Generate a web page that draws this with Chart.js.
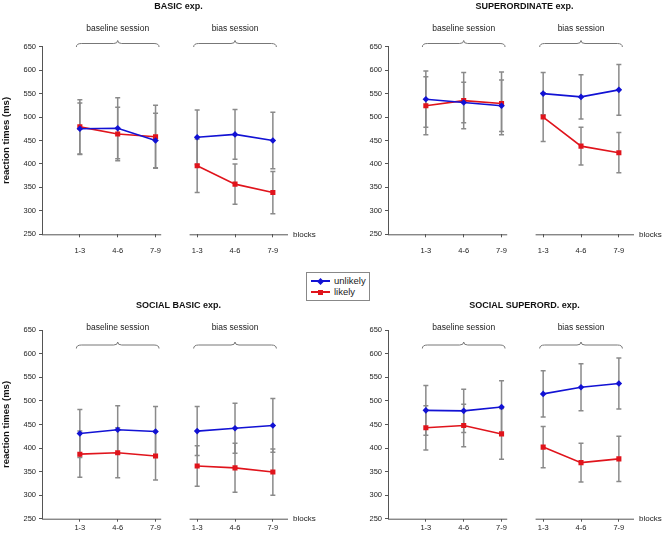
<!DOCTYPE html>
<html>
<head>
<meta charset="utf-8">
<script src="https://cdn.jsdelivr.net/npm/chart.js@4.4.1/dist/chart.umd.min.js"></script>
<style>
  html, body { margin: 0; padding: 0; background: #fff; }
  #wrap { position: relative; width: 662px; height: 534px; overflow: hidden; font-family: "Liberation Sans", Arial, sans-serif; }
  #wrap canvas { position: absolute; }
  #legend { position: absolute; left: 306px; top: 272px; width: 62px; height: 27px; border: 1px solid #888; background: #fff; }
  .lg-line { position: absolute; left: 4px; width: 19px; height: 2px; }
  .lg-mark { position: absolute; width: 5px; height: 5px; }
  .lg-text { position: absolute; left: 27px; font-size: 9.5px; color: #222; line-height: 11px; }
</style>
</head>
<body>
<div id="wrap">
  <canvas id="c1" width="331" height="267" style="left:0;top:0"></canvas>
  <canvas id="c2" width="331" height="267" style="left:331px;top:0"></canvas>
  <canvas id="c3" width="331" height="267" style="left:0;top:267px"></canvas>
  <canvas id="c4" width="331" height="267" style="left:331px;top:267px"></canvas>
  <div id="legend">
    <div class="lg-line" style="top:7px;background:#1212d4"></div>
    <div class="lg-mark" style="top:5.5px;left:11px;background:#1212d4;transform:rotate(45deg)"></div>
    <div class="lg-text" style="top:2px">unlikely</div>
    <div class="lg-line" style="top:18px;background:#e0141c"></div>
    <div class="lg-mark" style="top:16.5px;left:11px;background:#e0141c"></div>
    <div class="lg-text" style="top:13px">likely</div>
  </div>
</div>
<script>
// categories
const blockLabels = ['1-3', '4-6', '7-9'];
const sessionNames = ['baseline session', 'bias session'];
const panelTitles = ['BASIC exp.', 'SUPERORDINATE exp.', 'SOCIAL BASIC exp.', 'SOCIAL SUPERORD. exp.'];
// x position of each block (baseline 1..3, bias 4.1..6.1)
const blockPos = [1, 2, 3, 4.1, 5.1, 6.1];

// mean reaction times (baseline 1-3, 4-6, 7-9, bias 1-3, 4-6, 7-9)
const basicUnlikely = [475, 476, 450, 457, 463, 450];
const basicLikely = [479, 464, 458, 396, 357, 339];
const superUnlikely = [538, 531, 524, 550, 543, 558];
const superLikely = [524, 535, 529, 500, 438, 424];
const socBasicUnlikely = [431, 439, 435, 436, 442, 448];
const socBasicLikely = [387, 390, 383, 362, 358, 349];
const socSuperUnlikely = [480, 479, 487, 515, 529, 537];
const socSuperLikely = [443, 448, 430, 402, 369, 377];

// error bar half widths
const basicUnlikelyErr = [55, 65, 58, 58, 53, 60];
const basicLikelyErr = [58, 57, 67, 57, 43, 45];
const superUnlikelyErr = [60, 43, 55, 45, 47, 54];
const superLikelyErr = [62, 60, 67, 52, 40, 43];
const socBasicUnlikelyErr = [51, 51, 53, 52, 53, 57];
const socBasicLikelyErr = [49, 53, 51, 43, 52, 49];
const socSuperUnlikelyErr = [53, 46, 56, 49, 50, 54];
const socSuperLikelyErr = [47, 45, 54, 44, 41, 48];

const BLUE = '#1212d4';
const RED = '#e0141c';
const AXIS = '#555';
const FONT = '"Liberation Sans", Arial, sans-serif';
const W = 331, H = 267;
const X_MAX = 6.5;
const AREA_W = 246;

var panels = [
    { id: 'c1', title: panelTitles[0], u: basicUnlikely, l: basicLikely, uErr: basicUnlikelyErr, lErr: basicLikelyErr,
      yWidth: 42, yTitle: true, areaTop: 46.7, xHeight: 32.7, tickPad: 9, titleY: 7, labelY: 29, braceY: 43.5 },
    { id: 'c2', title: panelTitles[1], u: superUnlikely, l: superLikely, uErr: superUnlikelyErr, lErr: superLikelyErr,
      yWidth: 57, yTitle: false, areaTop: 46.7, xHeight: 32.7, tickPad: 9, titleY: 7, labelY: 29, braceY: 43.5 },
    { id: 'c3', title: panelTitles[2], u: socBasicUnlikely, l: socBasicLikely, uErr: socBasicUnlikelyErr, lErr: socBasicLikelyErr,
      yWidth: 42, yTitle: true, areaTop: 63.3, xHeight: 15.3, tickPad: 2, titleY: 39, labelY: 61, braceY: 78 },
    { id: 'c4', title: panelTitles[3], u: socSuperUnlikely, l: socSuperLikely, uErr: socSuperUnlikelyErr, lErr: socSuperLikelyErr,
      yWidth: 57, yTitle: false, areaTop: 63.3, xHeight: 15.3, tickPad: 2, titleY: 39, labelY: 61, braceY: 78 }
];

// build the 4 datasets of one panel (each series split by session)
function buildDatasets(p) {
    var sets = [];
    [[p.u, p.uErr, BLUE, 'rectRot', 3.3], [p.l, p.lErr, RED, 'rect', 3.6]].forEach(function (s) {
        [[0, 3], [3, 6]].forEach(function (r) {
            var pts = [];
            for (var i = r[0]; i < r[1]; i++) pts.push({ x: blockPos[i], y: s[0][i] });
            sets.push({
                data: pts,
                errors: s[1].slice(r[0], r[1]),
                borderColor: s[2],
                backgroundColor: s[2],
                borderWidth: 1.6,
                pointStyle: s[3],
                pointRadius: s[4],
                pointBorderWidth: 0,
                tension: 0
            });
        });
    });
    return sets;
}

// error bars, split x axis, braces, titles
function makeDecor(p) {
    return {
        id: 'decor_' + p.id,
        beforeDatasetsDraw: function (chart) {
            var ctx = chart.ctx, xs = chart.scales.x, ys = chart.scales.y;
            var b = chart.chartArea.bottom;
            ctx.save();
            // x axis in two pieces
            ctx.strokeStyle = AXIS;
            ctx.lineWidth = 1;
            [[0, 3.15], [3.9, X_MAX]].forEach(function (seg) {
                ctx.beginPath();
                ctx.moveTo(xs.getPixelForValue(seg[0]), b + 0.5);
                ctx.lineTo(xs.getPixelForValue(seg[1]), b + 0.5);
                ctx.stroke();
            });
            // error bars
            ctx.strokeStyle = '#8a8a8a';
            ctx.lineWidth = 1.5;
            chart.data.datasets.forEach(function (ds) {
                ds.data.forEach(function (pt, i) {
                    var x = xs.getPixelForValue(pt.x);
                    var y1 = ys.getPixelForValue(pt.y + ds.errors[i]);
                    var y2 = ys.getPixelForValue(pt.y - ds.errors[i]);
                    ctx.beginPath();
                    ctx.moveTo(x, y1); ctx.lineTo(x, y2);
                    ctx.moveTo(x - 2.5, y1); ctx.lineTo(x + 2.5, y1);
                    ctx.moveTo(x - 2.5, y2); ctx.lineTo(x + 2.5, y2);
                    ctx.stroke();
                });
            });
            ctx.restore();
        },
        afterDraw: function (chart) {
            var ctx = chart.ctx, xs = chart.scales.x, area = chart.chartArea;
            ctx.save();
            ctx.fillStyle = '#111';
            ctx.textBaseline = 'middle';
            ctx.textAlign = 'center';
            ctx.font = 'bold 9px ' + FONT;
            var right = area.right + 5 + 22;
            ctx.fillText(p.title, (area.left + right) / 2, p.titleY);

            // braces and session labels
            ctx.strokeStyle = '#777';
            ctx.lineWidth = 1;
            ctx.font = '8.5px ' + FONT;
            ctx.fillStyle = '#222';
            [[blockPos[0], blockPos[2]], [blockPos[3], blockPos[5]]].forEach(function (g, k) {
                var x0 = xs.getPixelForValue(g[0]) - 3.5;
                var x1 = xs.getPixelForValue(g[1]) + 3.5;
                var xm = (x0 + x1) / 2, yb = p.braceY;
                ctx.beginPath();
                ctx.moveTo(x0, yb + 3.5);
                ctx.quadraticCurveTo(x0, yb, x0 + 5, yb);
                ctx.lineTo(xm - 4, yb);
                ctx.quadraticCurveTo(xm, yb, xm, yb - 3);
                ctx.quadraticCurveTo(xm, yb, xm + 4, yb);
                ctx.lineTo(x1 - 5, yb);
                ctx.quadraticCurveTo(x1, yb, x1, yb + 3.5);
                ctx.stroke();
                ctx.fillText(sessionNames[k], xm, p.labelY);
            });

            // axis name at the end of the x axis
            ctx.textAlign = 'left';
            ctx.font = '8px ' + FONT;
            ctx.fillText('blocks', area.right + 5, area.bottom);
            ctx.restore();
        }
    };
}

panels.forEach(function (p) {
    var ctx = document.getElementById(p.id).getContext('2d');
    new Chart(ctx, {
        type: 'line',
        data: { datasets: buildDatasets(p) },
        options: {
            responsive: false,
            animation: false,
            devicePixelRatio: 1,
            layout: { padding: { top: p.areaTop, right: W - p.yWidth - AREA_W, bottom: 0, left: 0 } },
            plugins: { legend: { display: false }, tooltip: { enabled: false }, title: { display: false } },
            scales: {
                x: {
                    type: 'linear',
                    min: 0,
                    max: X_MAX,
                    afterBuildTicks: function (s) { s.ticks = blockPos.map(function (v) { return { value: v }; }); },
                    afterFit: function (s) { s.height = p.xHeight; },
                    ticks: {
                        autoSkip: false,
                        maxRotation: 0,
                        padding: p.tickPad,
                        color: '#222',
                        font: { family: FONT, size: 7.5 },
                        callback: function (v, i) { return blockLabels[i % 3]; }
                    },
                    grid: { drawOnChartArea: false, drawTicks: true, tickLength: 3, color: AXIS },
                    border: { display: false }
                },
                y: {
                    min: 250,
                    max: 650,
                    afterFit: function (s) { s.width = p.yWidth; },
                    ticks: { stepSize: 50, padding: 3, color: '#222', font: { family: FONT, size: 7.5 } },
                    grid: { drawOnChartArea: false, drawTicks: true, tickLength: 3, color: AXIS },
                    border: { display: true, color: AXIS, width: 1 },
                    title: {
                        display: p.yTitle,
                        text: 'reaction times (ms)',
                        color: '#111',
                        font: { family: FONT, size: 9.5, weight: 'bold' },
                        padding: { top: 1, bottom: 0 }
                    }
                }
            }
        },
        plugins: [makeDecor(p)]
    });
});
</script>
</body>
</html>
